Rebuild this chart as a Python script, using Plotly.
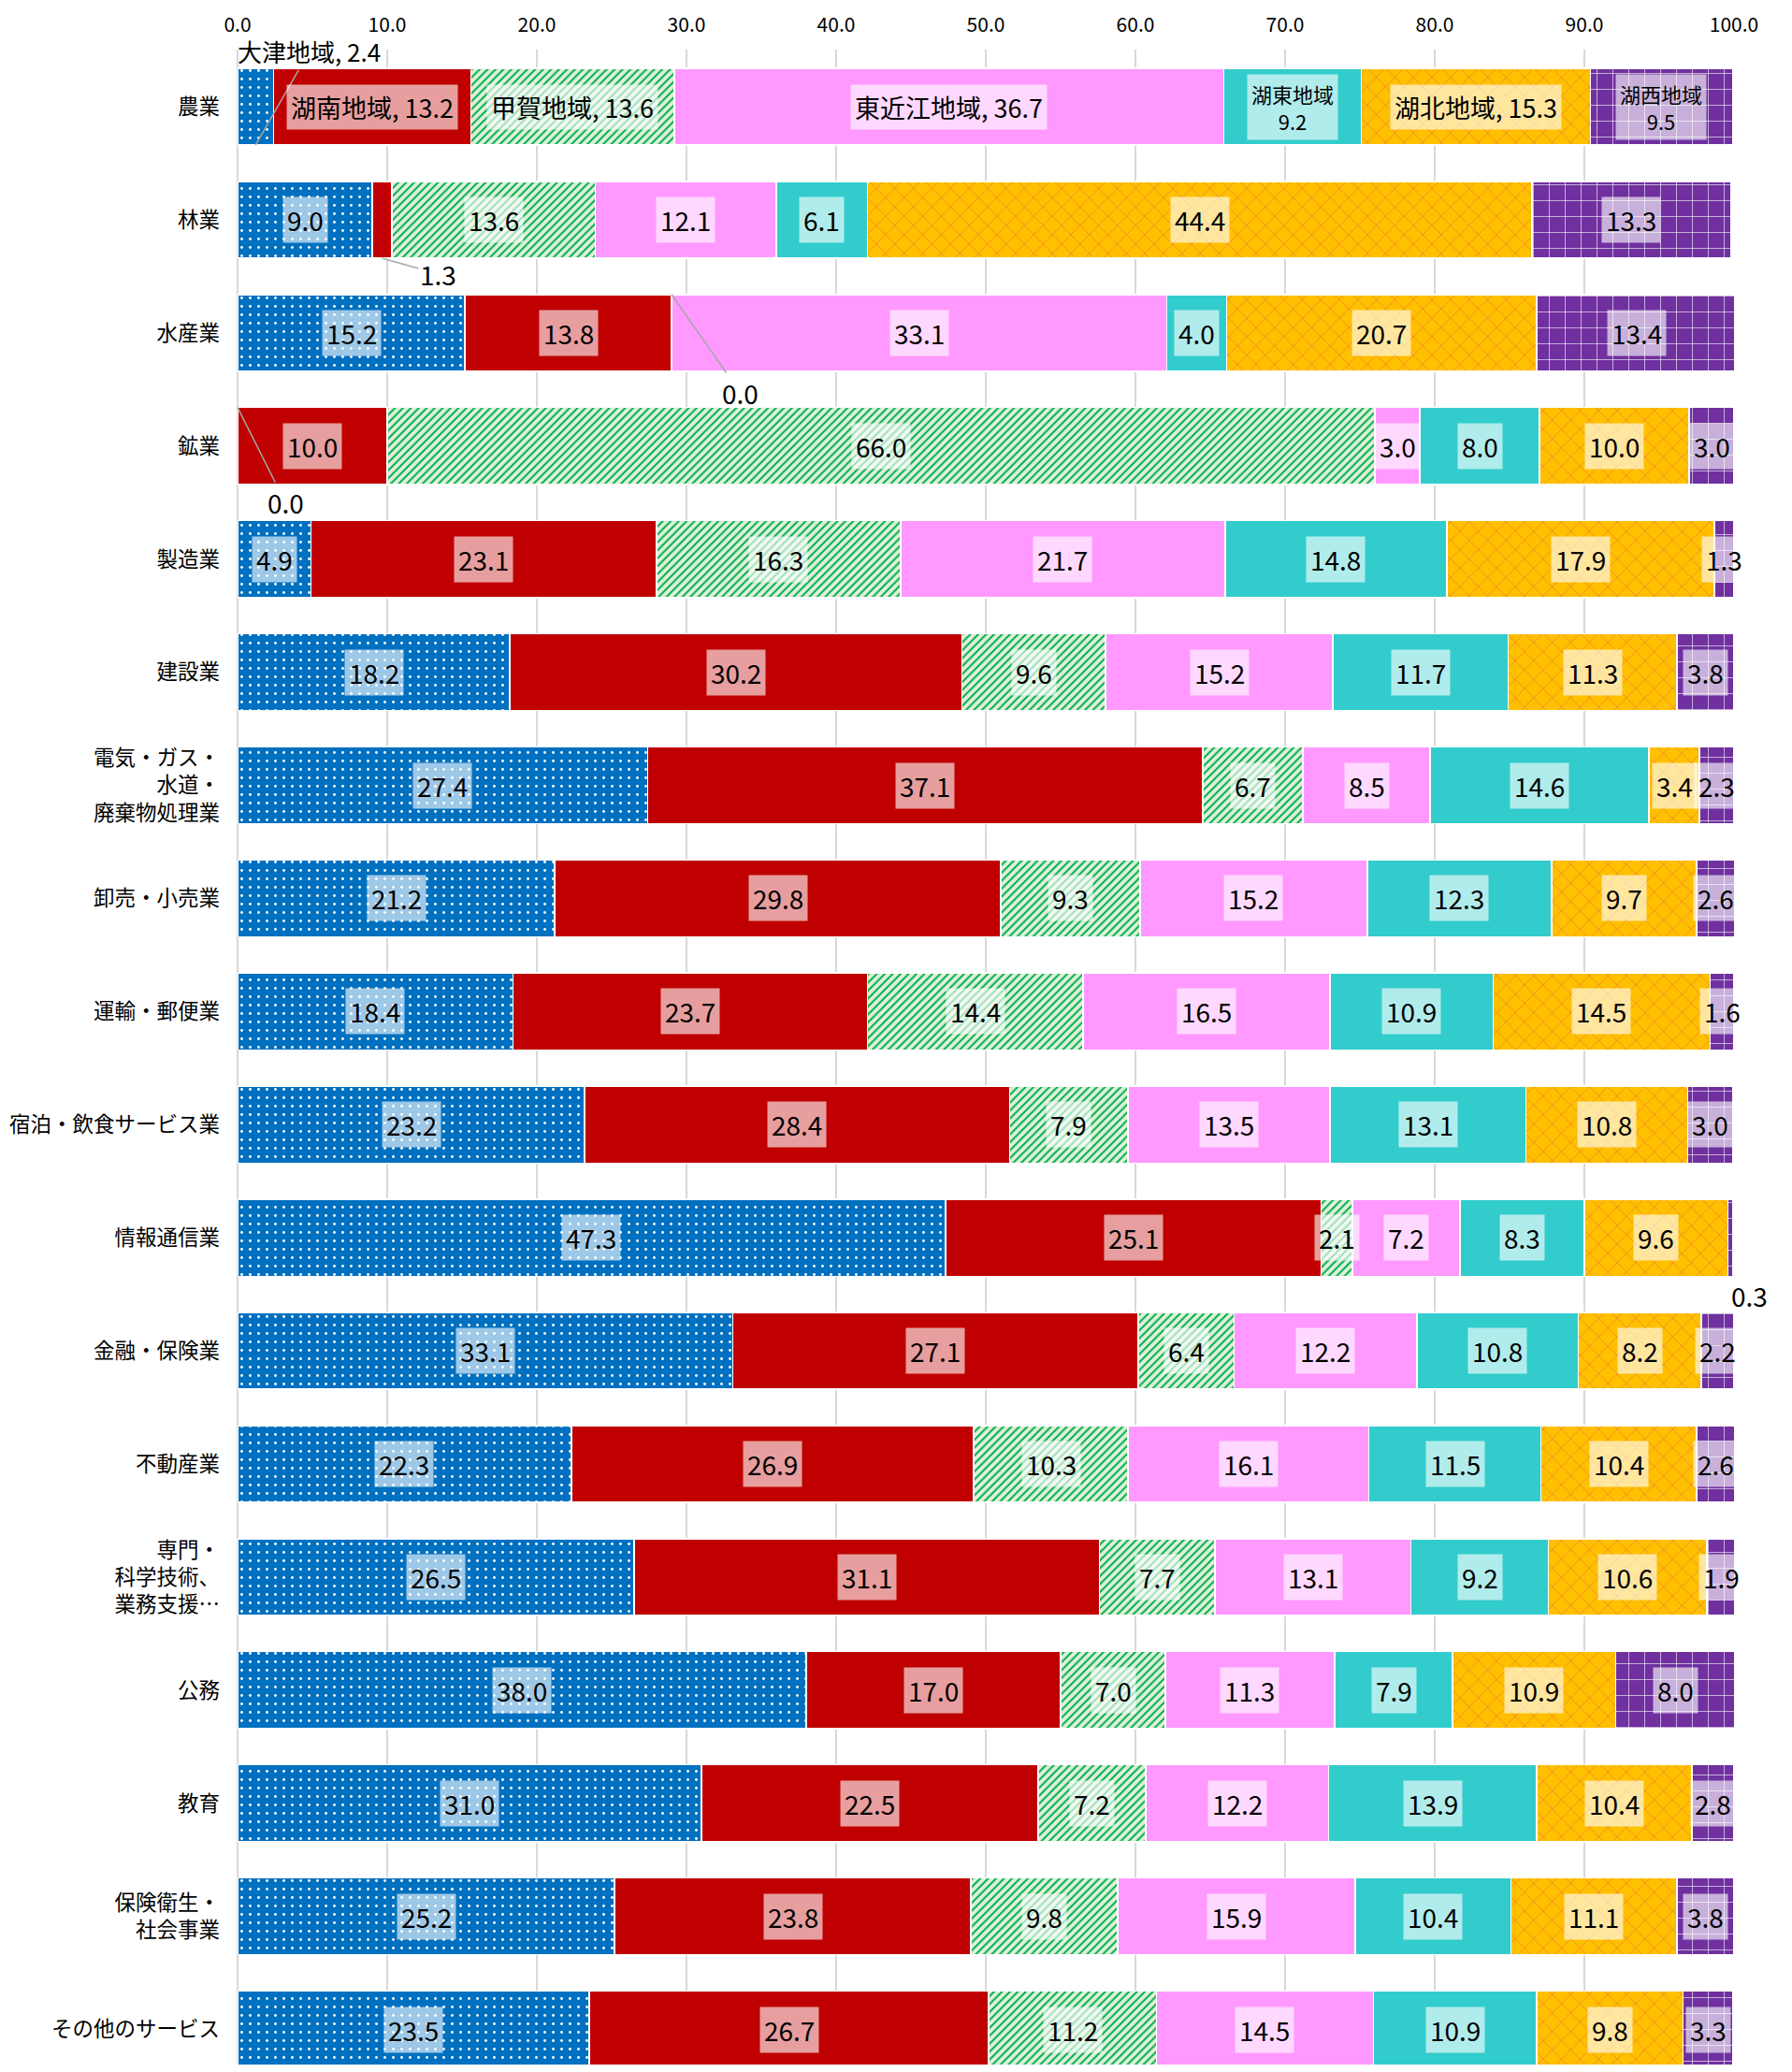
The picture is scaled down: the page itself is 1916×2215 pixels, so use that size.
import plotly.graph_objects as go

categories = ["農業", "林業", "水産業", "鉱業", "製造業", "建設業",
              "電気・ガス・<br>水道・<br>廃棄物処理業", "卸売・小売業", "運輸・郵便業",
              "宿泊・飲食サービス業", "情報通信業", "金融・保険業", "不動産業",
              "専門・<br>科学技術、<br>業務支援…", "公務", "教育",
              "保険衛生・<br>社会事業", "その他のサービス"]
regions = ["大津地域", "湖南地域", "甲賀地域", "東近江地域", "湖東地域", "湖北地域", "湖西地域"]

otsu       = [2.4, 9.0, 15.2, 0.0, 4.9, 18.2, 27.4, 21.2, 18.4, 23.2, 47.3, 33.1, 22.3, 26.5, 38.0, 31.0, 25.2, 23.5]
konan      = [13.2, 1.3, 13.8, 10.0, 23.1, 30.2, 37.1, 29.8, 23.7, 28.4, 25.1, 27.1, 26.9, 31.1, 17.0, 22.5, 23.8, 26.7]
koka       = [13.6, 13.6, 0.0, 66.0, 16.3, 9.6, 6.7, 9.3, 14.4, 7.9, 2.1, 6.4, 10.3, 7.7, 7.0, 7.2, 9.8, 11.2]
higashiomi = [36.7, 12.1, 33.1, 3.0, 21.7, 15.2, 8.5, 15.2, 16.5, 13.5, 7.2, 12.2, 16.1, 13.1, 11.3, 12.2, 15.9, 14.5]
koto       = [9.2, 6.1, 4.0, 8.0, 14.8, 11.7, 14.6, 12.3, 10.9, 13.1, 8.3, 10.8, 11.5, 9.2, 7.9, 13.9, 10.4, 10.9]
kohoku     = [15.3, 44.4, 20.7, 10.0, 17.9, 11.3, 3.4, 9.7, 14.5, 10.8, 9.6, 8.2, 10.4, 10.6, 10.9, 10.4, 11.1, 9.8]
kosei      = [9.5, 13.3, 13.4, 3.0, 1.3, 3.8, 2.3, 2.6, 1.6, 3.0, 0.3, 2.2, 2.6, 1.9, 8.0, 2.8, 3.8, 3.3]
series_values = [otsu, konan, koka, higashiomi, koto, kohoku, kosei]

FONT = "Noto Sans CJK JP"
styles = [
    dict(color="#0070C0", pattern=dict(shape=".", fgcolor="white", bgcolor="#0070C0", size=9, solidity=0.08, fillmode="replace")),
    dict(color="#C00000", pattern=None),
    dict(color="#E2F0D9", pattern=dict(shape="/", fgcolor="#00B050", bgcolor="#E2F0D9", size=6, solidity=0.35, fillmode="replace")),
    dict(color="#FF99FF", pattern=None),
    dict(color="#33CCCC", pattern=None),
    dict(color="#FFC000", pattern=dict(shape="x", fgcolor="#ED7D31", bgcolor="#FFC000", size=14, solidity=0.1, fillmode="replace")),
    dict(color="#7030A0", pattern=dict(shape="+", fgcolor="white", bgcolor="#7030A0", size=17, solidity=0.07, fillmode="replace")),
]

ypos = list(range(len(categories)))
fig = go.Figure()
for name, vals, st in zip(regions, series_values, styles):
    marker = dict(color=st["color"], line=dict(color="white", width=1.5))
    if st["pattern"]:
        marker["pattern"] = st["pattern"]
    fig.add_trace(go.Bar(y=ypos, x=vals, orientation="h", name=name, width=0.68,
                         marker=marker, hoverinfo="x+name"))

# leader-line labels: (series, category) -> (head y offset, text x, text y offset)
leaders = {
    (0, 0): (0.34, 4.8, -0.49),
    (1, 1): (0.34, 13.4, 0.48),
    (2, 2): (-0.34, 33.6, 0.53),
    (0, 3): (-0.34, 3.2, 0.50),
}
outside = {(6, 10): (0.51, 20)}
two_line = {4, 6}

annotations = []
cum = [0.0] * len(categories)
for si, (name, vals) in enumerate(zip(regions, series_values)):
    for ci, v in enumerate(vals):
        mid = cum[ci] + v / 2
        cum[ci] += v
        txt = f"{v:.1f}"
        size = 28
        if ci == 0:
            if si in two_line:
                txt = f"{name}<br>{v:.1f}"
                size = 22
            else:
                txt = f"{name}, {v:.1f}"
                size = 27
        if (si, ci) in leaders:
            hdy, tx, tdy = leaders[(si, ci)]
            annotations.append(dict(x=mid, y=ci + hdy, xref="x", yref="y", axref="x", ayref="y",
                                    ax=tx, ay=ci + tdy, text=txt, showarrow=True, arrowhead=0,
                                    arrowwidth=1.5, arrowcolor="#A6A6A6", standoff=0,
                                    font=dict(family=FONT, size=26 if ci == 0 else size, color="black")))
        elif (si, ci) in outside:
            dy, xs = outside[(si, ci)]
            annotations.append(dict(x=mid, y=ci + dy, xref="x", yref="y", text=txt, showarrow=False,
                                    xshift=xs, font=dict(family=FONT, size=size, color="black")))
        else:
            annotations.append(dict(x=mid, y=ci, xref="x", yref="y", text=txt, showarrow=False,
                                    bgcolor="rgba(255,255,255,0.62)", borderpad=4,
                                    font=dict(family=FONT, size=size, color="black")))

fig.update_layout(
    barmode="stack",
    width=1900, height=2199,
    margin=dict(l=246, r=54, t=45, b=0, autoexpand=False),
    plot_bgcolor="white", paper_bgcolor="white",
    showlegend=False,
    annotations=annotations,
    font=dict(family=FONT, color="black"),
    xaxis=dict(side="top", range=[0, 100], dtick=10, tick0=0, tickformat=".1f",
               showgrid=True, gridcolor="#D9D9D9", gridwidth=1.5, zeroline=True,
               zerolinecolor="#D9D9D9", zerolinewidth=1.5, ticks="", ticklabelstandoff=14,
               tickfont=dict(family=FONT, size=21, color="black"), fixedrange=True,
               automargin=False),
    yaxis=dict(range=[17.31, -0.505], tickvals=ypos, ticktext=categories, showgrid=False,
               zeroline=False, ticks="", ticklabelstandoff=18, automargin=False,
               tickfont=dict(family=FONT, size=22.5, color="black")),
)

fig.write_html("out.html")
